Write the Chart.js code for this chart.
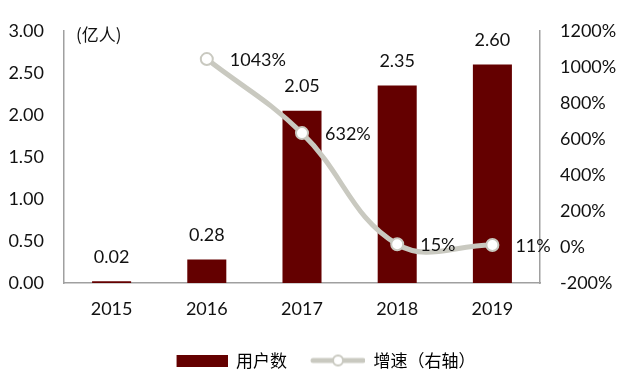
<!DOCTYPE html>
<html>
<head>
<meta charset="utf-8">
<script src="https://cdn.jsdelivr.net/npm/chart.js@4"></script>
<style>
  html, body { margin: 0; padding: 0; background: #fff; }
</style>
</head>
<body>
<canvas id="chart" width="635" height="382"></canvas>
<script>
// Chart data
const years = ['2015', '2016', '2017', '2018', '2019'];
const users = [0.02, 0.28, 2.05, 2.35, 2.60];      // 亿人
const growth = [null, 1043, 632, 15, 11];           // %
const seriesNames = ['用户数', '增速（右轴）'];

const barColor = '#640000';
const lineColor = '#c9c9c0';
const numFont = 'Lato, "Open Sans", sans-serif';
const cjkFont = '"Noto Sans CJK SC", sans-serif';

// legend symbols drawn as small canvases (left part left empty as spacing)
const symW = 68;
function makeBarSymbol() {
    const c = document.createElement('canvas');
    c.width = symW; c.height = 12;
    const g = c.getContext('2d');
    g.fillStyle = barColor;
    g.fillRect(symW - 51, 0, 51, 12);
    return c;
}
function makeLineSymbol() {
    const c = document.createElement('canvas');
    c.width = symW; c.height = 14;
    const g = c.getContext('2d');
    const x0 = symW - 55;
    g.strokeStyle = lineColor;
    g.lineWidth = 5;
    g.lineCap = 'round';
    g.beginPath(); g.moveTo(x0 + 3, 7); g.lineTo(x0 + 53, 7); g.stroke();
    g.fillStyle = '#fff';
    g.lineWidth = 2;
    g.beginPath(); g.arc(x0 + 28, 7, 5, 0, Math.PI * 2); g.fill(); g.stroke();
    return c;
}

// value labels over bars and next to points, plus the unit note
const labelPlugin = {
    id: 'valueLabels',
    afterDatasetsDraw(chart) {
        const ctx = chart.ctx;
        ctx.save();
        ctx.fillStyle = '#111';
        ctx.font = '18px ' + numFont;

        const barMeta = chart.getDatasetMeta(0);
        ctx.textAlign = 'center';
        ctx.textBaseline = 'middle';
        barMeta.data.forEach((el, i) => {
            ctx.fillText(users[i].toFixed(2), el.x, el.y - 24);
        });

        const lineMeta = chart.getDatasetMeta(1);
        ctx.textAlign = 'left';
        lineMeta.data.forEach((el, i) => {
            if (growth[i] === null) return;
            ctx.fillText(growth[i] + '%', el.x + 23, el.y + 1);
        });

        const area = chart.chartArea;
        ctx.font = '17px ' + cjkFont;
        ctx.textBaseline = 'middle';
        ctx.fillText('(亿人)', area.left + 12, area.top + 4);
        ctx.restore();
    }
};

const ctx = document.getElementById('chart').getContext('2d');
new Chart(ctx, {
    data: {
        labels: years,
        datasets: [
            {
                type: 'bar',
                label: seriesNames[0],
                data: users,
                backgroundColor: barColor,
                yAxisID: 'y',
                order: 2,
                categoryPercentage: 1,
                barPercentage: 0.41
            },
            {
                type: 'line',
                label: seriesNames[1],
                data: growth,
                borderColor: lineColor,
                borderWidth: 5,
                tension: 0.4,
                pointRadius: 6,
                pointBorderWidth: 2,
                pointBackgroundColor: '#fff',
                pointBorderColor: lineColor,
                yAxisID: 'y1',
                order: 1
            }
        ]
    },
    options: {
        responsive: false,
        animation: false,
        layout: { padding: { top: 28, bottom: 3, left: 0, right: 0 } },
        scales: {
            x: {
                grid: { display: false },
                border: { color: '#a0a0a0', width: 1.5 },
                ticks: { color: '#111', font: { family: numFont, size: 18 }, padding: 7 },
                afterFit(scale) { scale.height = 59; }
            },
            y: {
                position: 'left',
                min: 0, max: 3,
                grid: { display: false, drawTicks: false },
                border: { color: '#a0a0a0', width: 1.5 },
                ticks: {
                    stepSize: 0.5, padding: 20, color: '#111',
                    font: { family: numFont, size: 18 },
                    callback: v => v.toFixed(2)
                },
                afterFit(scale) { scale.width = 64; }
            },
            y1: {
                position: 'right',
                min: -200, max: 1200,
                grid: { display: false, drawTicks: false },
                border: { color: '#a0a0a0', width: 1.5 },
                ticks: {
                    stepSize: 200, padding: 20, color: '#111',
                    font: { family: numFont, size: 18 },
                    callback: v => v + '%'
                },
                afterFit(scale) { scale.width = 95; }
            }
        },
        plugins: {
            tooltip: { enabled: false },
            legend: {
                position: 'bottom',
                labels: {
                    usePointStyle: true,
                    pointStyleWidth: symW,
                    padding: 10,
                    color: '#111',
                    font: { family: cjkFont, size: 17 },
                    generateLabels() {
                        return [
                            { text: seriesNames[0], pointStyle: makeBarSymbol(), fillStyle: barColor, strokeStyle: barColor, lineWidth: 0, datasetIndex: 0 },
                            { text: seriesNames[1], pointStyle: makeLineSymbol(), fillStyle: '#fff', strokeStyle: lineColor, lineWidth: 0, datasetIndex: 1 }
                        ];
                    }
                }
            }
        }
    },
    plugins: [labelPlugin]
});
</script>
</body>
</html>
